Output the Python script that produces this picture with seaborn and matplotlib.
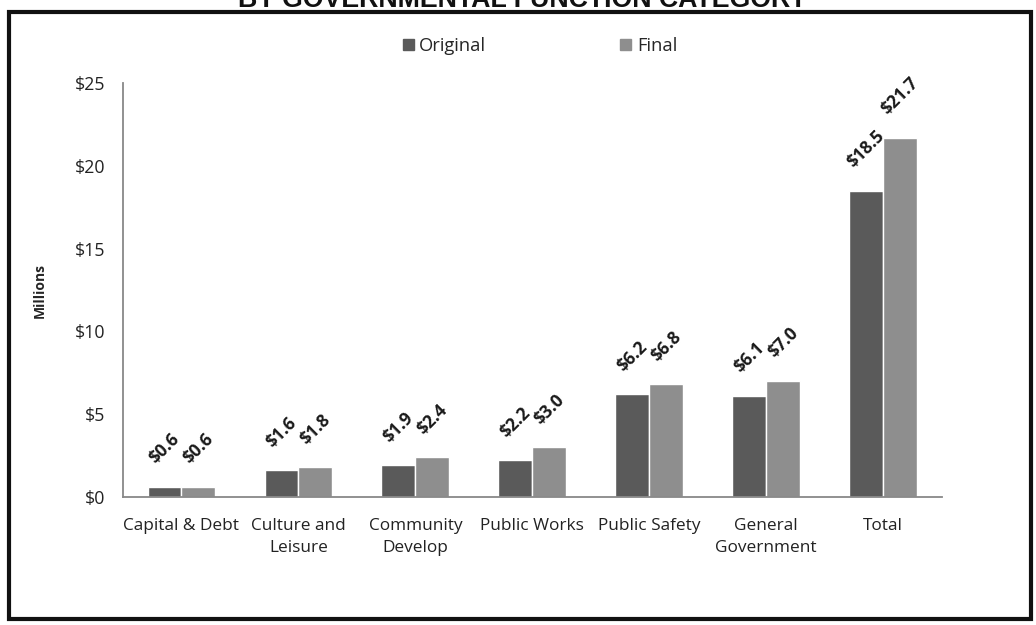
import pandas as pd
import matplotlib
matplotlib.use('Agg')
import matplotlib.pyplot as plt
import matplotlib.patches as patches
import seaborn as sns

categories = ['Capital & Debt', 'Culture and\nLeisure', 'Community\nDevelop', 'Public Works',
              'Public Safety', 'General\nGovernment', 'Total']
original = [0.6, 1.6, 1.9, 2.2, 6.2, 6.1, 18.5]
final = [0.6, 1.8, 2.4, 3.0, 6.8, 7.0, 21.7]
series = ['Original', 'Final']
y_ticks = [0, 5, 10, 15, 20, 25]
y_ticklabels = ['$0', '$5', '$10', '$15', '$20', '$25']
title = 'BY GOVERNMENTAL FUNCTION CATEGORY'

df = pd.DataFrame({
    'category': categories * 2,
    'value': original + final,
    'series': [series[0]] * len(categories) + [series[1]] * len(categories),
})

sns.set_style('white')
plt.rcParams['font.family'] = ['Open Sans', 'DejaVu Sans']

fig = plt.figure(figsize=(10.36, 6.25), dpi=100)
ax = fig.add_axes([0.1187, 0.205, 0.7903, 0.662])

palette = {'Original': '#5a5a5a', 'Final': '#8e8e8e'}
sns.barplot(data=df, x='category', y='value', hue='series', palette=palette,
            width=0.58, saturation=1, ax=ax, legend=False)

# data labels, rotated like the original chart
for cont, vals in zip(ax.containers, [original, final]):
    ax.bar_label(cont, labels=[f'${v:.1f}' for v in vals], padding=14, rotation=45,
                 fontsize=12.5, fontweight='bold', color='#1a1a1a')

ax.set_ylim(0, 25)
ax.set_xlim(-0.5, len(categories) - 0.5)
ax.set_yticks(y_ticks)
ax.set_yticklabels(y_ticklabels, fontsize=12.8, color='#222222')
ax.set_xticks(range(len(categories)))
ax.set_xticklabels(categories, fontsize=12.4, color='#222222', linespacing=1.5)
ax.set_xticks([i - 0.5 for i in range(len(categories) + 1)], minor=True)
ax.tick_params(axis='x', which='major', length=0, pad=15)
ax.tick_params(axis='x', which='minor', length=5, color='#888888', width=1.2, direction='out')
ax.tick_params(axis='y', length=4, color='#888888', width=1.2, direction='out', pad=9)
ax.set_xlabel('')
ax.set_ylabel('Millions', fontsize=10, fontweight='bold', labelpad=20)

for s in ['top', 'right']:
    ax.spines[s].set_visible(False)
for s in ['left', 'bottom']:
    ax.spines[s].set_color('#888888')
    ax.spines[s].set_linewidth(1.3)

# legend
handles = [patches.Patch(color=palette[s]) for s in series]
fig.legend(handles, series, loc='center', bbox_to_anchor=(540 / 1036, 1 - 46 / 625),
           ncol=2, frameon=False, fontsize=13.2, handlelength=0.6, handleheight=0.6,
           handletextpad=0.3, columnspacing=7.3)

# outer box and the title, cut off at the top as in the scan
fig.patches.append(patches.Rectangle((9 / 1036, 1 - 619 / 625), 1022 / 1036, 607 / 625,
                                     transform=fig.transFigure, fill=False,
                                     edgecolor='#111111', linewidth=3))
fig.text(523 / 1036, 1 - 7 / 625, title, ha='center', va='baseline', fontsize=19.3,
         fontweight='bold', family='Liberation Sans', color='#111111')

fig.savefig('out.png', dpi=100)
